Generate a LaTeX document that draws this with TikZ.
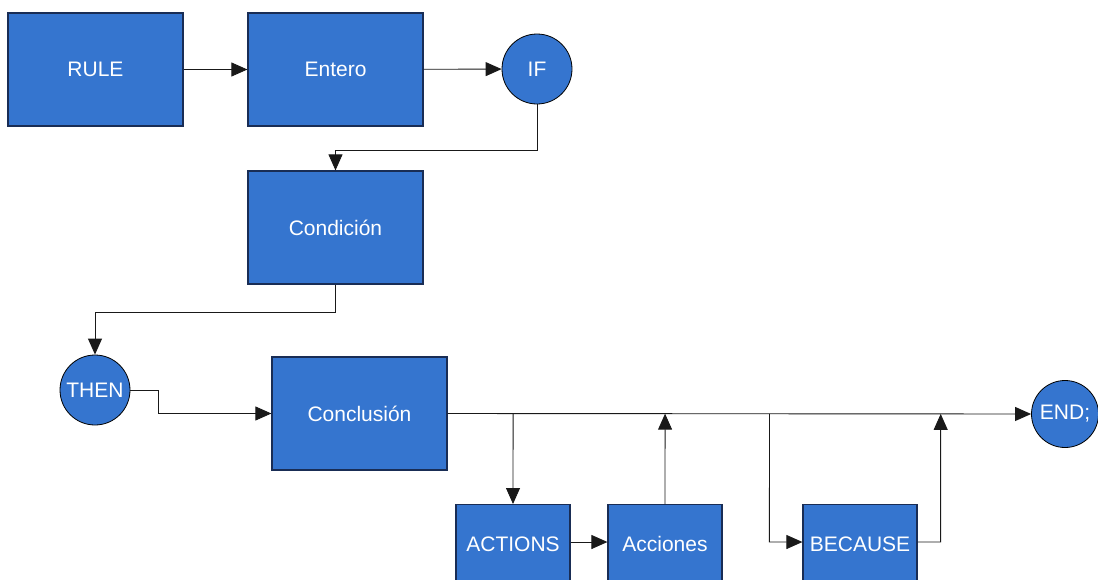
\documentclass[tikz,border=0pt]{standalone}
\usepackage{fontspec}
\setmainfont{Liberation Sans}
\usetikzlibrary{arrows.meta,calc}
\definecolor{boxblue}{RGB}{53,117,207}
\definecolor{boxedge}{RGB}{25,45,85}
\begin{document}
\begin{tikzpicture}[x=1pt,y=-1pt,
  box/.style={draw=boxedge,line width=1.2pt,fill=boxblue,text=white,minimum width=175pt,minimum height=113pt,inner sep=0pt,font=\fontsize{21}{24}\selectfont},
  sbox/.style={draw=boxedge,line width=1.2pt,fill=boxblue,text=white,minimum width=114pt,minimum height=82pt,inner sep=0pt,font=\fontsize{21}{24}\selectfont},
  term/.style={circle,draw=black,line width=0.8pt,fill=boxblue,text=white,minimum size=70pt,inner sep=0pt,font=\fontsize{21}{24}\selectfont},
  conn/.style={draw=black!90,line width=0.9pt,-{Triangle[length=16pt,width=14pt]}}]
\useasboundingbox (0,0) rectangle (1098,579);
\clip (0,0) rectangle (1098,579);
\node[box] (rule) at (95.5,69.5) {RULE};
\node[box] (ent) at (335.5,69.5) {Entero};
\node[term] (if) at (537,69) {IF};
\node[box] (cond) at (335.5,227.5) {Condición};
\node[term] (then) at (95,390) {THEN};
\node[box] (conc) at (359.5,413.5) {Conclusión};
\node[term,minimum size=67pt] (end) at (1065,414) {END;};
\node[sbox,anchor=north] (act) at (513,504) {\raisebox{3pt}{ACTIONS}};
\node[sbox,anchor=north] (acc) at (665,504) {\raisebox{3pt}{Acciones}};
\node[sbox,anchor=north] (bec) at (860,504) {\raisebox{3pt}{BECAUSE}};
\coordinate (ra) at ($(act.north east)+(0,38)$);
\coordinate (la) at ($(acc.north west)+(0,38)$);
\coordinate (lb) at ($(bec.north west)+(0,38)$);
\coordinate (rb) at ($(bec.north east)+(0,38)$);
\draw[conn] (rule) -- (ent);
\draw[conn] (ent) -- (if);
\draw[conn] (if.south) |- (335.5,150) -- (cond.north);
\draw[conn] (cond.south) |- (95,312) -- (then.north);
\draw[conn] (then.east) -- (158,390) |- (conc.west);
\draw[conn] (conc.east) -- (end.west);
\coordinate (ja) at ($(conc.east)!(act.north)!(end.west)$);
\coordinate (jb) at ($(conc.east)!(acc.north)!(end.west)$);
\coordinate (kb) at ($(lb)+(-33,0)$);
\coordinate (jc) at ($(conc.east)!(kb)!(end.west)$);
\coordinate (kd) at ($(rb)+(23,0)$);
\coordinate (jd) at ($(conc.east)!(kd)!(end.west)$);
\draw[conn] (ja) -- (act.north);
\draw[conn] (ra) -- (la);
\draw[conn] (acc.north) -- (jb);
\draw[conn] (jc) -- (kb) -- (lb);
\draw[conn] (rb) -- (kd) -- (jd);
\end{tikzpicture}
\end{document}
